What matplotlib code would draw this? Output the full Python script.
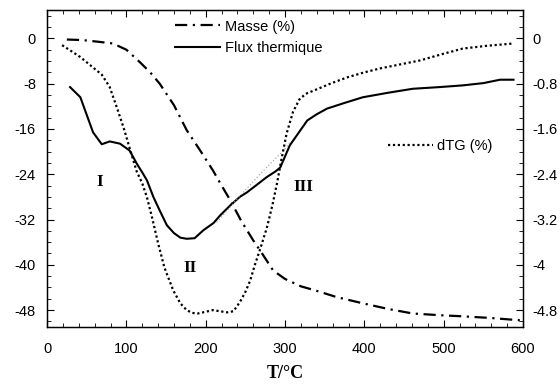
import numpy as np
import matplotlib
matplotlib.use('Agg')
from matplotlib import pyplot as plt
from matplotlib.ticker import MultipleLocator

# mass loss curve (%)
T_masse = [25, 45, 65, 83, 100, 117, 130, 142, 160, 176, 193, 209, 220, 231, 245, 260, 272,
           285, 300, 320, 340, 365, 398, 430, 461, 495, 524, 560, 596]
masse = [-0.2, -0.3, -0.6, -0.9, -2.0, -4.2, -6.0, -8.0, -11.8, -16.2, -19.8, -23.3, -26.0,
         -28.6, -32.3, -35.7, -38.2, -41.0, -42.5, -43.8, -44.6, -45.7, -46.8, -47.8, -48.6,
         -48.9, -49.1, -49.4, -49.8]

# heat flow curve
T_flux = [29, 42, 50, 58, 69, 79, 92, 104, 113, 121, 126, 134, 142, 151, 160, 168, 176, 186,
          197, 210, 218, 231, 243, 252, 265, 277, 288, 294, 306, 319, 328, 340, 353, 375, 398,
          430, 461, 495, 524, 550, 571, 588]
flux = [-8.6, -10.4, -13.5, -16.6, -18.7, -18.2, -18.6, -19.8, -22.1, -23.9, -25.1, -28.0,
        -30.4, -33.0, -34.4, -35.2, -35.4, -35.3, -33.9, -32.6, -31.3, -29.5, -28.0, -27.2,
        -25.8, -24.5, -23.5, -22.8, -18.9, -16.3, -14.5, -13.4, -12.4, -11.4, -10.4, -9.6,
        -8.9, -8.6, -8.3, -7.9, -7.3, -7.3]

# derivative of mass (%), right axis
T_dtg = [19, 30, 42, 55, 69, 79, 88, 97, 105, 113, 120, 126, 133, 140, 148, 159, 168, 176,
         183, 190, 200, 209, 218, 227, 235, 243, 250, 256, 262, 268, 277, 284, 290, 296, 302,
         310, 318, 326, 340, 357, 378, 400, 420, 445, 470, 500, 524, 555, 588]
dtg = [-0.12, -0.22, -0.33, -0.48, -0.64, -0.86, -1.22, -1.60, -1.98, -2.35, -2.56, -2.81,
       -3.20, -3.62, -4.05, -4.45, -4.68, -4.80, -4.85, -4.86, -4.83, -4.80, -4.82, -4.84,
       -4.82, -4.66, -4.48, -4.28, -4.00, -3.75, -3.35, -2.95, -2.55, -2.10, -1.68, -1.30,
       -1.08, -0.98, -0.90, -0.80, -0.69, -0.60, -0.53, -0.46, -0.39, -0.27, -0.18, -0.13,
       -0.09]

# faint baseline under the heat flow peak
T_base = [214, 240, 269, 298, 306]
base = [-32.5, -28.3, -23.9, -19.8, -18.4]

right_ticks = [0, -0.8, -1.6, -2.4, -3.2, -4, -4.8]
right_labels = ['0', '-0.8', '-1.6', '-2.4', '-3.2', '-4', '-4.8']

sans = 'Liberation Sans'
serif = 'Liberation Serif'
plt.rcParams['font.family'] = sans
plt.rcParams['font.size'] = 10.5
plt.rcParams['axes.unicode_minus'] = False

fig = plt.figure(figsize=(5.6, 3.88), dpi=100)
ax = fig.add_axes([0.084, 0.157, 0.850, 0.817])
ax2 = ax.twinx()

ax.plot(T_masse, masse, color='black', lw=1.6, ls=(0, (5.5, 2.5, 1, 2.5)), label='Masse (%)')
ax.plot(T_flux, flux, color='black', lw=1.5, label='Flux thermique')
ax.plot(T_base, base, color='0.6', lw=0.8, ls=(0, (1, 2)))
l3, = ax2.plot(T_dtg, dtg, color='black', lw=1.6, ls=(0, (1, 1.2)), label='dTG (%)')

ax.set_xlim(0, 600)
ax.set_ylim(-51, 5)
ax2.set_ylim(-5.1, 0.5)

ax.xaxis.set_major_locator(MultipleLocator(100))
ax.xaxis.set_minor_locator(MultipleLocator(20))
ax.yaxis.set_major_locator(MultipleLocator(8))
ax.yaxis.set_minor_locator(MultipleLocator(2))
ax2.yaxis.set_minor_locator(MultipleLocator(0.2))
ax2.set_yticks(right_ticks)
ax2.set_yticklabels(right_labels)

ax.tick_params(axis='x', which='both', direction='in', top=True, pad=11)
ax.tick_params(axis='y', which='both', direction='in', right=False, pad=8)
ax.tick_params(which='major', length=5, width=0.8)
ax.tick_params(which='minor', length=3, width=0.6)
ax2.tick_params(axis='y', which='both', direction='in', pad=7)
ax2.tick_params(which='major', length=5, width=0.8)
ax2.tick_params(which='minor', length=3, width=0.6)

for a in (ax, ax2):
    for s in a.spines.values():
        s.set_linewidth(0.9)

ax.set_xlabel('T/°C', family=serif, fontweight='bold', fontsize=13, labelpad=6)

ax.text(67, -25.4, 'I', family=serif, fontweight='bold', fontsize=12.5, ha='center', va='center')
ax.text(180, -40.6, 'II', family=serif, fontweight='bold', fontsize=12.5, ha='center', va='center')
ax.text(323, -26.3, 'III', family=serif, fontweight='bold', fontsize=12.5, ha='center', va='center')

ax.legend(loc='upper left', bbox_to_anchor=(0.268, 0.97), frameon=False,
          borderpad=0, borderaxespad=0, handlelength=3.1, handletextpad=0.35,
          labelspacing=0.5)
ax2.legend(handles=[l3], loc='center left', bbox_to_anchor=(0.716, 0.571), frameon=False,
           borderpad=0, borderaxespad=0, handlelength=3.1, handletextpad=0.3)

fig.savefig('out.png', dpi=100)
